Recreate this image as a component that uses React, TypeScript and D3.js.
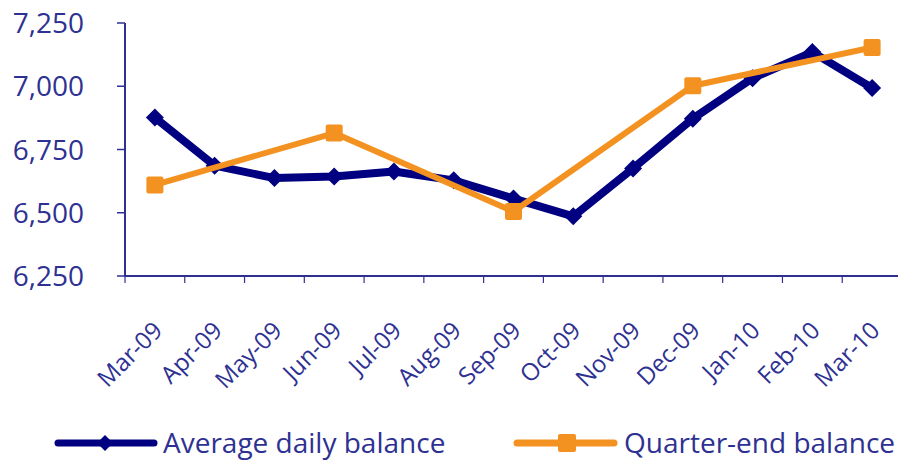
import React from "react";
import * as d3 from "d3";

const months = ["Mar-09","Apr-09","May-09","Jun-09","Jul-09","Aug-09","Sep-09","Oct-09","Nov-09","Dec-09","Jan-10","Feb-10","Mar-10"];
const averageDaily = [6876, 6686, 6637, 6643, 6663, 6628, 6556, 6486, 6675, 6872, 7032, 7135, 6993];
const quarterMonths = ["Mar-09","Jun-09","Sep-09","Dec-09","Mar-10"];
const quarterEnd = [6610, 6815, 6505, 7002, 7153];
const yTicks = [6250, 6500, 6750, 7000, 7250];
const seriesNames = ["Average daily balance", "Quarter-end balance"];

const W = 898, H = 461;
const NAVY = "#000080";
const ORANGE = "#F39221";
const TEXT = "#2E3192";
const FONT = "'Open Sans', 'Noto Sans', sans-serif";

export default function App() {
  const x = d3.scaleBand().domain(months).range([125, 902]);
  const y = d3.scaleLinear().domain([6250, 7250]).range([276, 23]);
  const cx = (m: string) => (x(m) as number) + x.bandwidth() / 2;

  const avgPts: [number, number][] = months.map((m, i) => [cx(m), y(averageDaily[i])]);
  const qPts: [number, number][] = quarterMonths.map((m, i) => [cx(m), y(quarterEnd[i])]);
  const line = d3.line();

  const diamond = (px: number, py: number, s = 8) =>
    `M${px},${py - s} L${px + s},${py} L${px},${py + s} L${px - s},${py} Z`;

  const boundaries = [...months.map((m) => x(m) as number)];

  return (
    <svg width={W} height={H} style={{ position: "absolute", left: 0, top: 0 }} fontFamily={FONT}>
      <rect width={W} height={H} fill="#fff" />
      {/* y axis */}
      <line x1={125} x2={125} y1={y(7250)} y2={y(6250)} stroke={TEXT} strokeWidth={2} />
      {yTicks.map((t) => (
        <g key={t}>
          <line x1={117} x2={125} y1={y(t)} y2={y(t)} stroke={TEXT} strokeWidth={1.5} />
          <text x={84} y={y(t)} dy="0.36em" textAnchor="end" fontSize={28} fill={TEXT}>
            {d3.format(",")(t)}
          </text>
        </g>
      ))}
      {/* x axis */}
      <line x1={125} x2={W} y1={y(6250)} y2={y(6250)} stroke={TEXT} strokeWidth={2} />
      {boundaries.map((b, i) => (
        <line key={i} x1={b} x2={b} y1={y(6250)} y2={y(6250) + 7} stroke={TEXT} strokeWidth={1.2} />
      ))}
      {months.map((m) => (
        <text
          key={m}
          transform={`translate(${cx(m) + 9},${332}) rotate(-45)`}
          textAnchor="end"
          fontSize={24}
          fill={TEXT}
        >
          {m}
        </text>
      ))}
      {/* average daily */}
      <path d={line(avgPts) || ""} fill="none" stroke={NAVY} strokeWidth={8} strokeLinejoin="round" />
      {avgPts.map((p, i) => (
        <path key={i} d={diamond(p[0], p[1], 9)} fill={NAVY} />
      ))}
      {/* quarter end */}
      <path d={line(qPts) || ""} fill="none" stroke={ORANGE} strokeWidth={6} strokeLinejoin="round" />
      {qPts.map((p, i) => (
        <rect key={i} x={p[0] - 8.5} y={p[1] - 8.5} width={17} height={17} rx={2} fill={ORANGE} />
      ))}
      {/* legend */}
      <g>
        <line x1={58} x2={154} y1={443} y2={443} stroke={NAVY} strokeWidth={7} strokeLinecap="round" />
        <path d={diamond(105, 443, 8)} fill={NAVY} />
        <text x={163} y={453} fontSize={28} fill={TEXT}>{seriesNames[0]}</text>
        <line x1={517} x2={614} y1={443} y2={443} stroke={ORANGE} strokeWidth={7} strokeLinecap="round" />
        <rect x={558} y={434} width={18} height={18} rx={2} fill={ORANGE} />
        <text x={624} y={453} fontSize={28} fill={TEXT}>{seriesNames[1]}</text>
      </g>
    </svg>
  );
}
